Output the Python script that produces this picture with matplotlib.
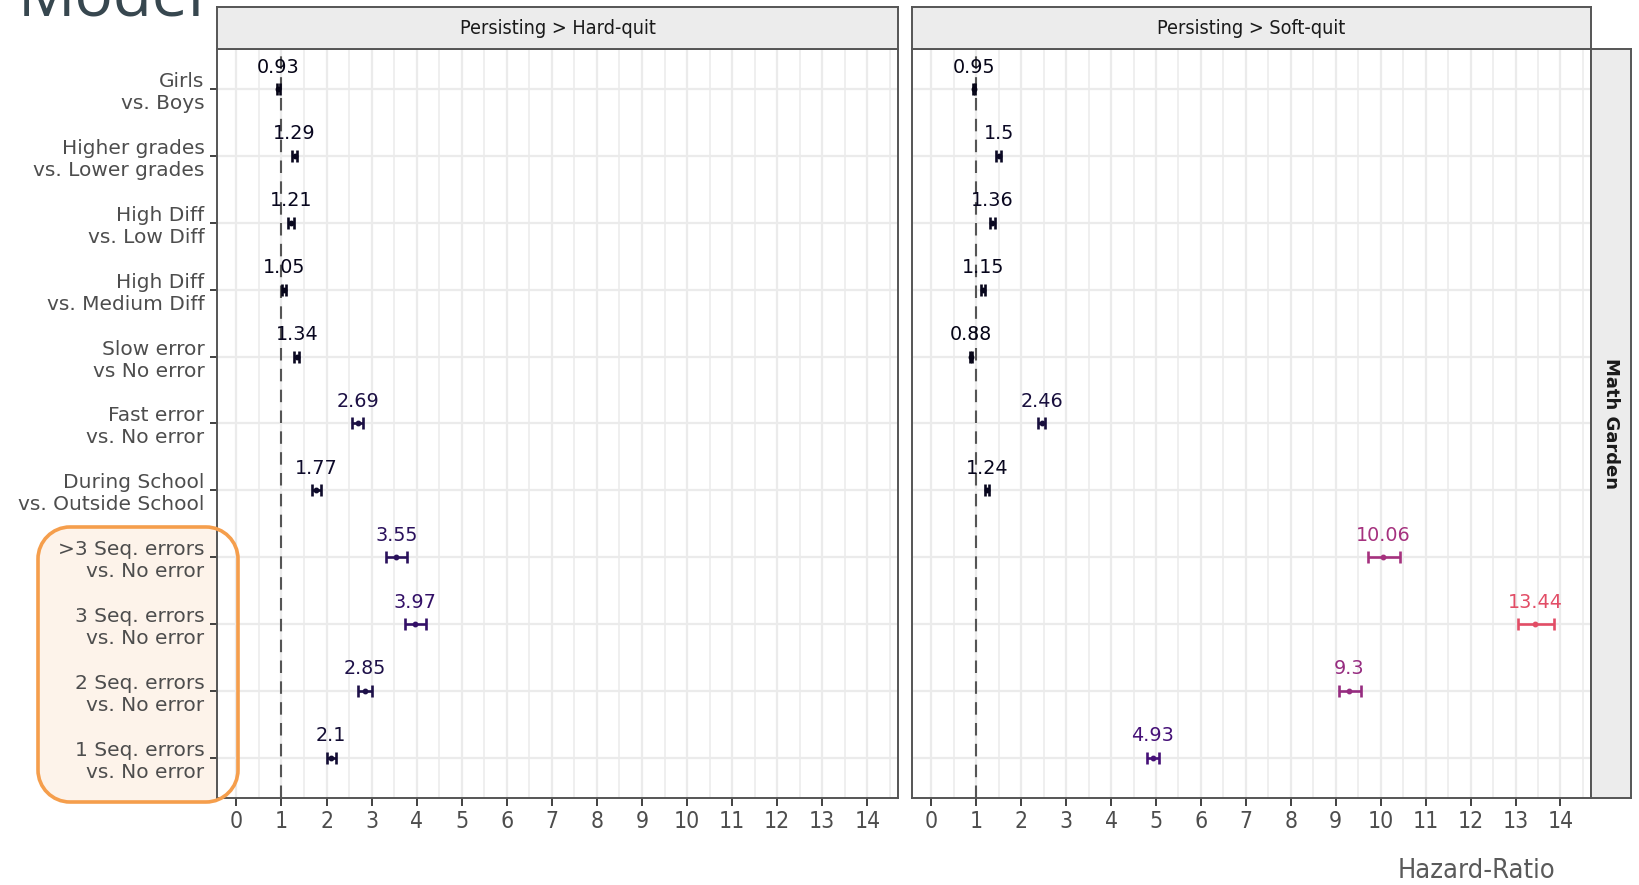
import matplotlib
matplotlib.use("Agg")
import matplotlib.pyplot as plt
import numpy as np
from matplotlib.patches import PathPatch
from matplotlib.path import Path

# ---------------- data ----------------
categories = [
    "Girls\nvs. Boys",
    "Higher grades\nvs. Lower grades",
    "High Diff\nvs. Low Diff",
    "High Diff\nvs. Medium Diff",
    "Slow error\nvs No error",
    "Fast error\nvs. No error",
    "During School\nvs. Outside School",
    ">3 Seq. errors\nvs. No error",
    "3 Seq. errors\nvs. No error",
    "2 Seq. errors\nvs. No error",
    "1 Seq. errors\nvs. No error",
]

hard_hr = [0.93, 1.29, 1.21, 1.05, 1.34, 2.69, 1.77, 3.55, 3.97, 2.85, 2.10]
hard_lo = [0.90, 1.24, 1.15, 1.01, 1.28, 2.56, 1.67, 3.33, 3.75, 2.70, 2.00]
hard_hi = [0.96, 1.34, 1.27, 1.09, 1.40, 2.82, 1.87, 3.78, 4.20, 3.00, 2.20]

soft_hr = [0.95, 1.50, 1.36, 1.15, 0.88, 2.46, 1.24, 10.06, 13.44, 9.30, 4.93]
soft_lo = [0.92, 1.45, 1.31, 1.11, 0.85, 2.38, 1.19, 9.72, 13.05, 9.07, 4.79]
soft_hi = [0.98, 1.55, 1.41, 1.19, 0.91, 2.54, 1.29, 10.44, 13.85, 9.56, 5.07]

panel_titles = ["Persisting > Hard-quit", "Persisting > Soft-quit"]
row_title = "Math Garden"
x_ticks = list(range(15))
x_label = "Hazard-Ratio"

# ---------------- figure ----------------
W, H = 1639, 885
fig = plt.figure(figsize=(W / 100, H / 100), dpi=100)
fig.patch.set_facecolor("white")

def fbox(l, t, r, b):
    return [l / W, 1 - b / H, (r - l) / W, (b - t) / H]

cmap = plt.get_cmap("magma")

def col(v):
    return cmap(min(v / 22.0, 1.0))

panels = [
    (fbox(217, 49, 898, 798), hard_hr, hard_lo, hard_hi, True),
    (fbox(912, 49, 1591, 798), soft_hr, soft_lo, soft_hi, False),
]
ypos = np.arange(1, len(categories) + 1)

for (rect, hr, lo, hi, show_y) in panels:
    ax = fig.add_axes(rect)
    ax.set_facecolor("white")
    ax.set_xlim(-0.43, 14.68)
    ax.set_ylim(11.6, 0.4)
    ax.set_xticks(x_ticks)
    ax.set_xticklabels([str(t) for t in x_ticks], fontstretch="condensed")
    ax.set_xticks(np.arange(0.5, 14.6, 1.0), minor=True)
    ax.set_yticks(ypos)
    ax.set_axisbelow(True)
    ax.grid(which="major", axis="both", color="#ebebeb", lw=1.6)
    ax.grid(which="minor", axis="x", color="#ebebeb", lw=1.1)
    ax.tick_params(axis="x", which="major", length=6, width=1.3, color="#333333",
                   labelsize=16.5, labelcolor="#4d4d4d", pad=3)
    ax.tick_params(which="minor", length=0)
    if show_y:
        ax.set_yticklabels(categories, fontsize=14.5, color="#4d4d4d")
        ax.tick_params(axis="y", length=5, width=1.3, color="#333333", pad=4)
    else:
        ax.set_yticklabels([])
        ax.tick_params(axis="y", length=0)
    for s in ax.spines.values():
        s.set_color("#555555")
        s.set_linewidth(1.4)
    ax.axvline(1, color="#555555", ls=(0, (6, 4)), lw=1.5, zorder=1.5)
    for i in range(len(hr)):
        c = col(hr[i])
        ax.errorbar(hr[i], ypos[i], xerr=[[hr[i] - lo[i]], [hi[i] - hr[i]]],
                    fmt="o", ms=3.2, color=c, ecolor=c, elinewidth=1.9,
                    capsize=4, capthick=1.9, zorder=3)
        ax.text(hr[i], ypos[i] - 0.33, f"{hr[i]:g}", ha="center", va="center",
                fontsize=13.8, color=c, zorder=4)

# strips
for (l, r), title in zip([(217, 898), (912, 1591)], panel_titles):
    sax = fig.add_axes(fbox(l, 7, r, 49))
    sax.set_facecolor("#ececec")
    sax.set_xticks([]); sax.set_yticks([])
    for s in sax.spines.values():
        s.set_color("#555555"); s.set_linewidth(1.4)
    sax.text(0.5, 0.5, title, ha="center", va="center", fontsize=14.2,
             color="#1a1a1a", fontstretch="condensed", transform=sax.transAxes)

rax = fig.add_axes(fbox(1591, 49, 1631, 798))
rax.set_facecolor("#ececec")
rax.set_xticks([]); rax.set_yticks([])
for s in rax.spines.values():
    s.set_color("#555555"); s.set_linewidth(1.4)
rax.text(0.5, 0.5, row_title, ha="center", va="center", rotation=-90,
         fontsize=13, fontweight="bold", color="#1a1a1a", transform=rax.transAxes)

# x label
fig.text(1477 / W, 1 - 871 / H, x_label, ha="center", va="center",
         fontsize=19.5, color="#5a5a5a", fontstretch="condensed")

# slide title remnant (cut off at top, as in the reference)
fig.text(18 / W, 1 - 15 / H, "Model", ha="left", va="baseline",
         fontsize=46, color="#37474f", family=["Open Sans", "DejaVu Sans"])

# orange highlight box
bx_l, bx_t, bx_r, bx_b = 38, 527, 238, 802
rad = 32

def rounded_rect_path(l, t, r, b, rr):
    def P(x, y):
        return (x / W, 1 - y / H)
    k = 0.5523 * rr
    pts, codes = [], []
    pts += [P(l + rr, t)]; codes += [Path.MOVETO]
    pts += [P(r - rr, t)]; codes += [Path.LINETO]
    pts += [P(r - rr + k, t), P(r, t + rr - k), P(r, t + rr)]; codes += [Path.CURVE4] * 3
    pts += [P(r, b - rr)]; codes += [Path.LINETO]
    pts += [P(r, b - rr + k), P(r - rr + k, b), P(r - rr, b)]; codes += [Path.CURVE4] * 3
    pts += [P(l + rr, b)]; codes += [Path.LINETO]
    pts += [P(l + rr - k, b), P(l, b - rr + k), P(l, b - rr)]; codes += [Path.CURVE4] * 3
    pts += [P(l, t + rr)]; codes += [Path.LINETO]
    pts += [P(l, t + rr - k), P(l + rr - k, t), P(l + rr, t)]; codes += [Path.CURVE4] * 3
    pts += [P(l + rr, t)]; codes += [Path.CLOSEPOLY]
    return Path(pts, codes)

path = rounded_rect_path(bx_l, bx_t, bx_r, bx_b, rad)
fig.patches.append(PathPatch(path, transform=fig.transFigure, facecolor="#fdf3ea",
                             edgecolor="none", zorder=-5))
fig.patches.append(PathPatch(path, transform=fig.transFigure, facecolor="none",
                             edgecolor="#f59e4c", lw=2.6, zorder=10))

fig.savefig("out.png", dpi=100, facecolor="white")
